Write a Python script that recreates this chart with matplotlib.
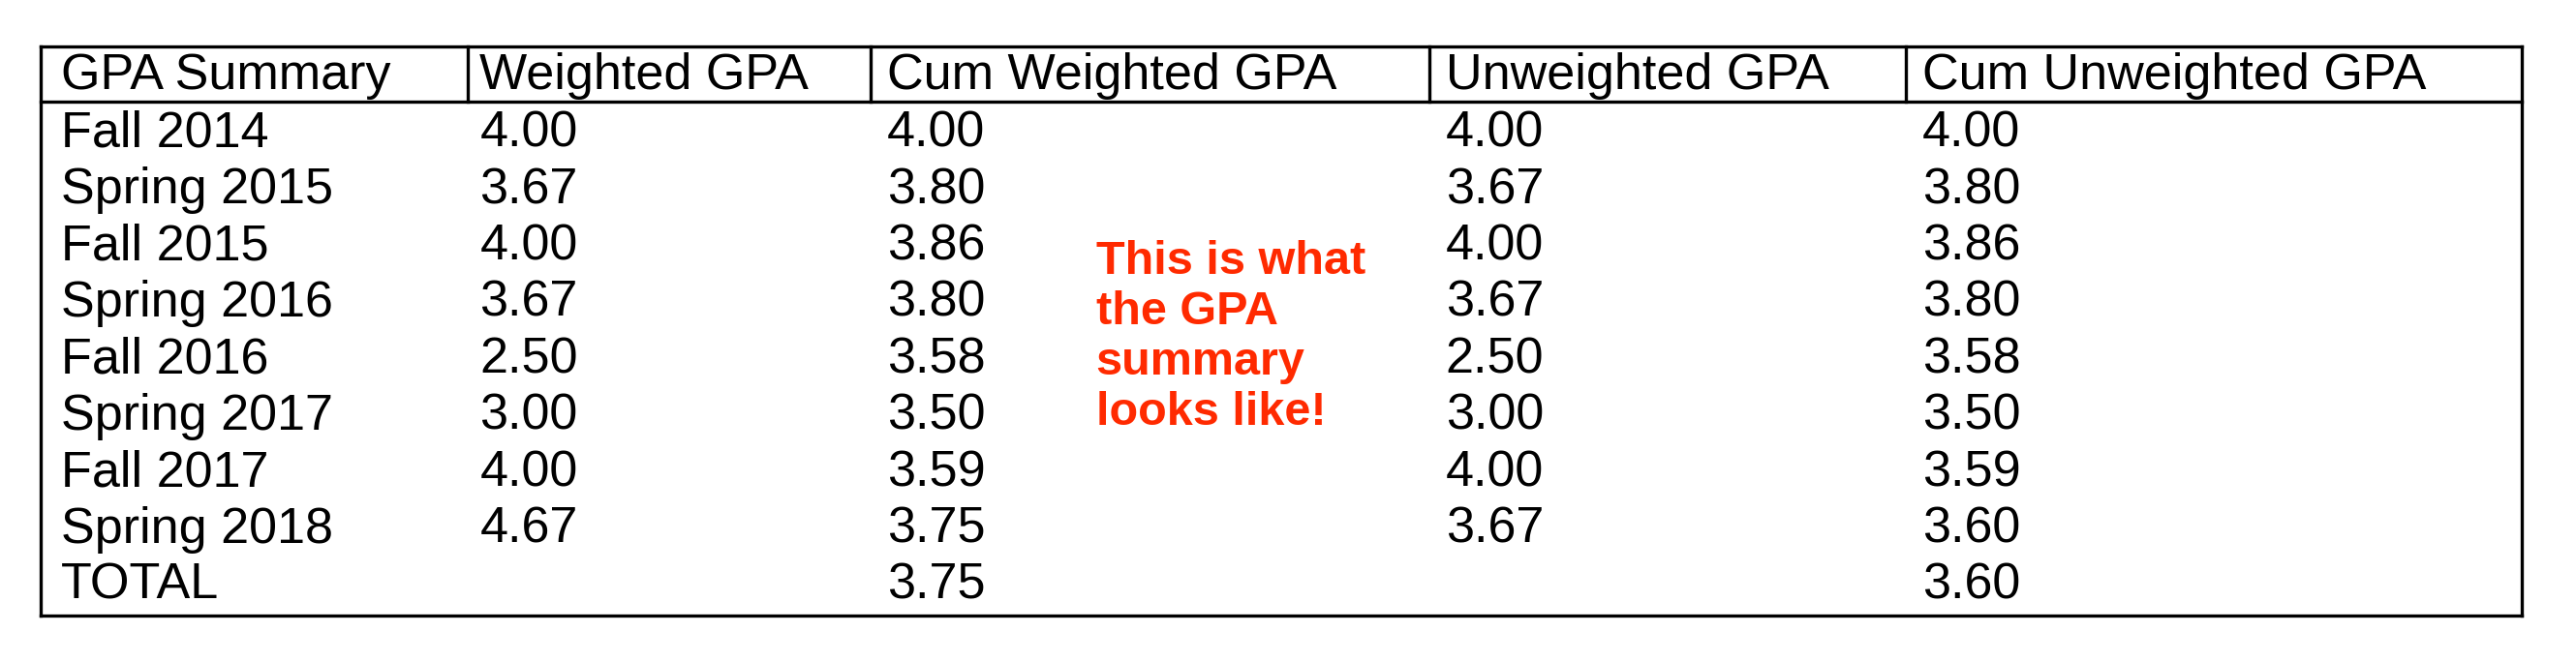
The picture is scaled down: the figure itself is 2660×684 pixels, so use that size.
import matplotlib
matplotlib.use("Agg")
import matplotlib.pyplot as plt

headers = ["GPA Summary", "Weighted GPA", "Cum Weighted GPA", "Unweighted GPA", "Cum Unweighted GPA"]
terms = ["Fall 2014", "Spring 2015", "Fall 2015", "Spring 2016", "Fall 2016",
         "Spring 2017", "Fall 2017", "Spring 2018", "TOTAL"]
weighted = ["4.00", "3.67", "4.00", "3.67", "2.50", "3.00", "4.00", "4.67", ""]
cum_weighted = ["4.00", "3.80", "3.86", "3.80", "3.58", "3.50", "3.59", "3.75", "3.75"]
unweighted = ["4.00", "3.67", "4.00", "3.67", "2.50", "3.00", "4.00", "3.67", ""]
cum_unweighted = ["4.00", "3.80", "3.86", "3.80", "3.58", "3.50", "3.59", "3.60", "3.60"]
note = "This is what\nthe GPA\nsummary\nlooks like!"

plt.rcParams['font.family'] = ['Liberation Sans', 'DejaVu Sans']
fig = plt.figure(figsize=(26.6, 6.84), dpi=100)
ax = fig.add_axes([0, 0, 1, 1])
ax.set_xlim(0, 1568)
ax.set_ylim(403, 0)
ax.axis('off')

left, right, top, hbot, bottom = 25, 1535, 28, 62, 375
col_lines = [25, 285, 530, 870, 1160, 1535]
text_x = [37, 292, 540, 880, 1170]
fs = 37.5
lw = 2.4

ax.plot([left, right], [top, top], color='black', lw=lw)
ax.plot([left, right], [hbot, hbot], color='black', lw=lw)
ax.plot([left, right], [bottom, bottom], color='black', lw=lw)
ax.plot([left, left], [top, bottom], color='black', lw=lw)
ax.plot([right, right], [top, bottom], color='black', lw=lw)
for x in col_lines[1:-1]:
    ax.plot([x, x], [top, hbot], color='black', lw=lw)

for i, h in enumerate(headers):
    ax.text(text_x[i], 46, h, fontsize=fs, va='center', ha='left')

cols = [terms, weighted, cum_weighted, unweighted, cum_unweighted]
row0, step = 81.5, 34.4
for c, vals in enumerate(cols):
    for r, v in enumerate(vals):
        ax.text(text_x[c], row0 + r * step, v, fontsize=fs, va='center', ha='left')

ax.text(667, 146, note, fontsize=35, fontweight='bold', color='#FF2A00',
        va='top', ha='left', linespacing=1.2)

fig.savefig("out.png", dpi=100)
